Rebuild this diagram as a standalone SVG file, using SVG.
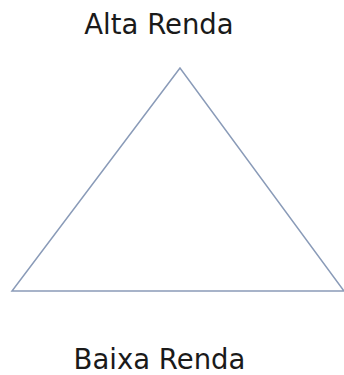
<svg xmlns="http://www.w3.org/2000/svg" width="344" height="375" viewBox="0 0 344 375">
<style>
.lbl{font-family:"DejaVu Sans",Verdana,sans-serif;font-size:27.5px;fill:#1a1a1a}
.tri{fill:none;stroke:#8a9bb8;stroke-width:1.5;stroke-linejoin:miter}
</style>
<rect width="344" height="375" fill="#ffffff"/>
<g id="pyramid"><polygon class="tri" points="180,68 12,291 344,291"/></g>
<g id="top"><text class="lbl" x="159" y="34" text-anchor="middle">Alta Renda</text></g>
<g id="bottom"><text class="lbl" x="159.5" y="369" text-anchor="middle">Baixa Renda</text></g>
</svg>
